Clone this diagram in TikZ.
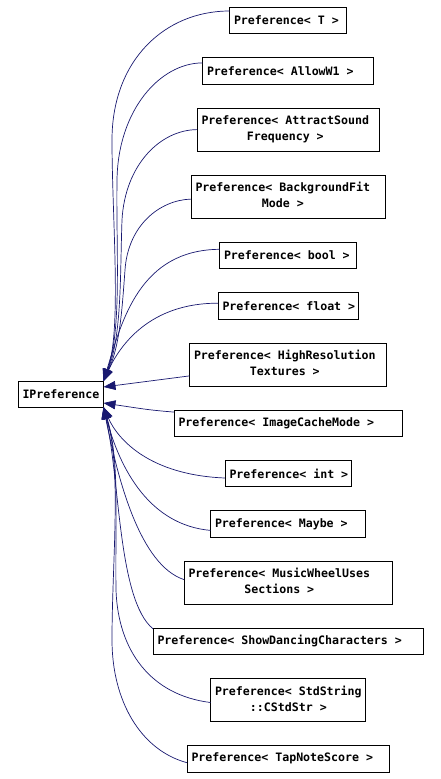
\documentclass[tikz,border=0pt]{standalone}
\usepackage{fontspec}
\setmonofont{DejaVu Sans Mono}
\usepackage{xcolor}
\usetikzlibrary{arrows.meta,positioning}
\definecolor{edgeblue}{HTML}{191970}
% class name set flush left in a box of given width
\newcommand{\clsname}[2]{\makebox[#1][l]{#2}}
\newcommand{\clsnametwo}[3]{\makebox[#1][l]{\begin{tabular}{@{}c@{}}#2\\#3\end{tabular}}}

\begin{document}
\begin{tikzpicture}[
    x=1pt, y=-1pt,
    font=\ttfamily\bfseries\fontsize{11.6}{16}\selectfont,
    node distance=24pt,
    cls/.style={draw, line width=0.8pt, inner xsep=4.5pt, inner ysep=0pt, outer sep=0pt, minimum height=26.4pt},
    cls2/.style={cls, minimum height=43pt},
    inherit/.style={draw=edgeblue, line width=0.7pt, -{Triangle[length=12pt, width=9pt]}}
  ]
  \useasboundingbox (0,0) rectangle (441,779);

  % Base class
  \node[cls, inner xsep=4pt, minimum height=26pt] (ipref) at (61,394) {\clsname{77pt}{IPreference}};

  % Derived classes, one column
  \node[cls] (pT) at (288,20.5) {\clsname{108pt}{Preference< T >}};
  \node[cls, below=of pT] (pAllow) {\clsname{162pt}{Preference< AllowW1 >}};
  \node[cls2, below=of pAllow] (pAttract) {\clsnametwo{173pt}{Preference< AttractSound}{Frequency >}};
  \node[cls2, below=of pAttract] (pBackground) {\clsnametwo{185pt}{Preference< BackgroundFit}{Mode >}};
  \node[cls, below=of pBackground] (pBool) {\clsname{128pt}{Preference< bool >}};
  \node[cls, below=of pBool] (pFloat) {\clsname{131pt}{Preference< float >}};
  \node[cls2, below=of pFloat] (pHighRes) {\clsnametwo{188pt}{Preference< HighResolution}{Textures >}};
  \node[cls, below=of pHighRes] (pImageCache) {\clsname{219pt}{Preference< ImageCacheMode >}};
  \node[cls, below=of pImageCache] (pInt) {\clsname{117pt}{Preference< int >}};
  \node[cls, below=of pInt] (pMaybe) {\clsname{146pt}{Preference< Maybe >}};
  \node[cls2, below=of pMaybe] (pMusic) {\clsnametwo{199pt}{Preference< MusicWheelUses}{Sections >}};
  \node[cls, below=of pMusic] (pShow) {\clsname{261pt}{Preference< ShowDancingCharacters >}};
  \node[cls2, below=of pShow] (pStdString) {\clsnametwo{146pt}{Preference< StdString}{::CStdStr >}};
  \node[cls, below=of pStdString] (pTap) {\clsname{193pt}{Preference< TapNoteScore >}};

  % Inheritance edges
  \draw[inherit] ([yshift=9.5pt]pT.west) .. controls (165,11) and (112,60) .. (112,140)
    .. controls (112,220) and (122,330) .. (ipref.north east);
  \draw[inherit] ([yshift=8pt]pAllow.west) .. controls (160,63) and (118,110) .. (117,180)
    .. controls (116,250) and (122,330) .. (ipref.north east);
  \draw[inherit] (pAttract.west) .. controls (160,130) and (125,165) .. (122,220)
    .. controls (120,275) and (122,335) .. (ipref.north east);
  \draw[inherit] ([yshift=-2.5pt]pBackground.west) .. controls (160,200) and (128,225) .. (125,270)
    .. controls (122,310) and (120,345) .. (ipref.north east);
  \draw[inherit] ([yshift=6pt]pBool.west) .. controls (140,250) and (122,320) .. (ipref.north east);
  \draw[inherit] ([yshift=2.5pt]pFloat.west) .. controls (150,303) and (120,345) .. (ipref.north east);
  \draw[inherit] ([yshift=-11.5pt]pHighRes.west) -- ([yshift=-6pt]ipref.north east);
  \draw[inherit] ([yshift=11pt]pImageCache.west) .. controls (150,410) .. ([yshift=4pt]ipref.south east);
  \draw[inherit] ([yshift=-4.5pt]pInt.west) .. controls (150,475) and (118,440) .. (ipref.south east);
  \draw[inherit] ([yshift=-6.5pt]pMaybe.west) .. controls (150,525) and (120,470) .. (ipref.south east);
  \draw[inherit] ([yshift=3pt]pMusic.west) .. controls (140,565) and (118,480) .. (ipref.south east);
  \draw[inherit] ([yshift=12.5pt]pShow.west) .. controls (118,600) and (120,480) .. (ipref.south east);
  \draw[inherit] ([yshift=-2.5pt]pStdString.west) .. controls (150,695) and (118,650) .. (116,590)
    .. controls (115,520) and (120,460) .. (ipref.south east);
  \draw[inherit] ([yshift=-4pt]pTap.west) .. controls (140,750) and (112,700) .. (112,640)
    .. controls (112,560) and (122,470) .. (ipref.south east);

\end{tikzpicture}
\end{document}
